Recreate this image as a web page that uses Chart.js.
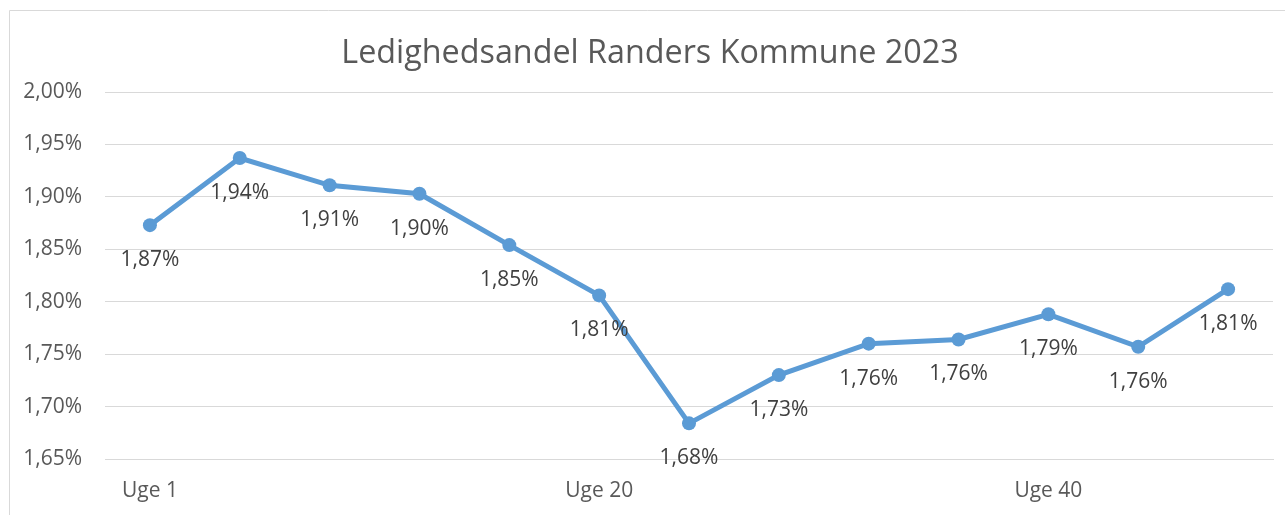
<!DOCTYPE html>
<html lang="da">
<head>
<meta charset="utf-8">
<title>Ledighedsandel Randers Kommune 2023</title>
<script src="https://cdn.jsdelivr.net/npm/chart.js@4/dist/chart.umd.min.js"></script>
<style>
    html, body { margin: 0; padding: 0; background: #fff; }
    #wrap { width: 1285px; height: 515px; position: relative; }
</style>
</head>
<body>
<div id="wrap"><canvas id="ledighed"></canvas></div>
<script>
// Data
const uger = ['Uge 1', 'Uge 4', 'Uge 8', 'Uge 12', 'Uge 16', 'Uge 20', 'Uge 24',
              'Uge 28', 'Uge 32', 'Uge 36', 'Uge 40', 'Uge 44', 'Uge 48'];
const ledighedsandel = [1.873, 1.937, 1.911, 1.903, 1.854, 1.806, 1.684,
                        1.730, 1.760, 1.764, 1.788, 1.757, 1.812];
const yTicks = { min: 1.65, max: 2.00, step: 0.05 };
const titel = 'Ledighedsandel Randers Kommune 2023';

const FONT = "'Open Sans', 'DejaVu Sans', sans-serif";
const BLUE = '#5b9bd5';

// formaterer 1.873 -> "1,87%"
function procent(v) {
    return (Math.round(v * 100) / 100).toFixed(2).replace('.', ',') + '%';
}

// Ramme og titel (som i Excel, titlen centreret over hele rammen)
const rammePlugin = {
    id: 'ramme',
    beforeDraw(chart) {
        const ctx = chart.ctx;
        ctx.save();
        ctx.strokeStyle = '#d9d9d9';
        ctx.lineWidth = 1;
        ctx.beginPath();
        ctx.moveTo(9.5, chart.height);
        ctx.lineTo(9.5, 10.5);
        ctx.lineTo(chart.width, 10.5);
        ctx.stroke();

        ctx.font = '32.3px ' + FONT;
        ctx.fillStyle = '#595959';
        ctx.textAlign = 'center';
        ctx.textBaseline = 'middle';
        ctx.fillText(titel, 650, 54);
        ctx.restore();
    }
};

// Dataetiketter under punkterne
const etiketPlugin = {
    id: 'etiketter',
    afterDatasetsDraw(chart) {
        const ctx = chart.ctx;
        const meta = chart.getDatasetMeta(0);
        ctx.save();
        ctx.font = '21px ' + FONT;
        ctx.fillStyle = '#404040';
        ctx.textAlign = 'center';
        ctx.textBaseline = 'middle';
        meta.data.forEach((pt, i) => {
            ctx.fillText(procent(chart.data.datasets[0].data[i]), pt.x, pt.y + 35);
        });
        ctx.restore();
    }
};

new Chart(document.getElementById('ledighed'), {
    type: 'line',
    data: {
        labels: uger,
        datasets: [{
            label: 'Ledighedsandel',
            data: ledighedsandel,
            borderColor: BLUE,
            backgroundColor: BLUE,
            borderWidth: 5,
            pointRadius: 7,
            pointBorderWidth: 0,
            pointBackgroundColor: BLUE,
            tension: 0
        }]
    },
    options: {
        responsive: true,
        maintainAspectRatio: false,
        animation: false,
        layout: { padding: { left: 0, right: 12, top: 92, bottom: 0 } },
        plugins: {
            legend: { display: false },
            tooltip: { enabled: false },
            title: { display: false }
        },
        scales: {
            x: {
                offset: true,
                grid: { display: false, drawTicks: false },
                border: { display: true, color: '#d9d9d9' },
                ticks: {
                    autoSkip: false,
                    maxRotation: 0,
                    padding: 19,
                    color: '#595959',
                    font: { family: FONT, size: 21 },
                    callback: function (val, idx) {
                        return idx % 5 === 0 ? this.getLabelForValue(val) : '';
                    }
                },
                afterFit: s => { s.height = 56; }
            },
            y: {
                min: yTicks.min,
                max: yTicks.max,
                grid: { color: '#d9d9d9', lineWidth: 1, drawTicks: false },
                border: { display: false },
                ticks: {
                    stepSize: yTicks.step,
                    padding: 23,
                    color: '#595959',
                    font: { family: FONT, size: 21 },
                    callback: v => procent(v)
                },
                afterFit: s => { s.width = 105; }
            }
        }
    },
    plugins: [rammePlugin, etiketPlugin]
});
</script>
</body>
</html>
